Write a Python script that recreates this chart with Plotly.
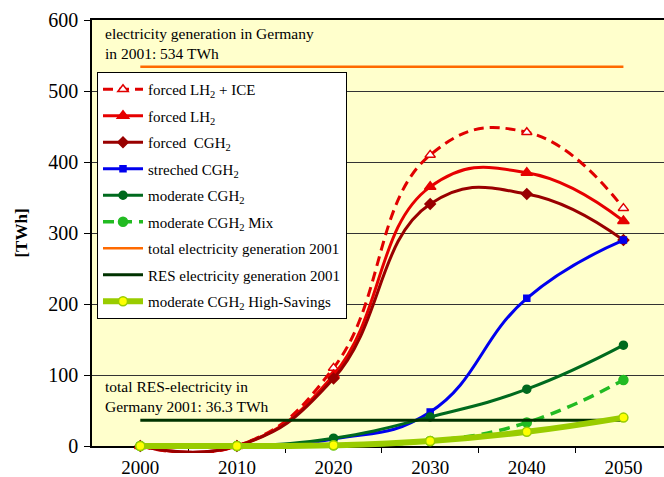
import plotly.graph_objects as go

# Hydrogen-related electricity demand scenarios, Germany
years = [2000, 2010, 2020, 2030, 2040, 2050]

forced_lh2_ice = [0, 0, 110, 410, 442, 335]
forced_lh2 = [0, 0, 100, 365, 385, 317]
forced_cgh2 = [0, 0, 95, 341, 355, 290]
streched_cgh2 = [0, 0, 10, 48, 208, 290]
moderate_cgh2 = [0, 0, 11, 41, 80, 142]
moderate_cgh2_mix = [0, 0, 1, 7, 33, 93]
moderate_cgh2_high_savings = [0, 0, 1, 7, 20, 40]

total_electricity_2001 = 534
res_electricity_2001 = 36.3

SERIF = "Liberation Serif"

# plot box in pixels: axis area 20..446, curves may hang a little below 0
TOP, AXIS_BOTTOM, CURVE_BOTTOM = 20, 446, 453
PX_PER_UNIT = (AXIS_BOTTOM - TOP) / 600
H_TOTAL = CURVE_BOTTOM - TOP
D = (CURVE_BOTTOM - AXIS_BOTTOM) / H_TOTAL

fig = go.Figure()


def add_series(name, y, color, width, dash="solid", symbol="circle",
               msize=8, mfill=None, mline=None, smooth=True, show_markers=True):
    fig.add_trace(go.Scatter(
        x=years, y=y, name=name, legendgroup=name,
        xaxis="x", yaxis="y2",
        mode="lines+markers" if show_markers else "lines",
        line=dict(color=color, width=width, dash=dash,
                  shape="spline" if smooth else "linear", smoothing=1.3),
        marker=dict(symbol=symbol, size=msize,
                    color=mfill if mfill else color,
                    line=dict(color=mline if mline else color, width=1.5)),
    ))


add_series("forced LH<sub>2</sub> + ICE", forced_lh2_ice, "#E00000", 3,
           dash="10px,6px", symbol="triangle-up", msize=9, mfill="white")
add_series("forced LH<sub>2</sub>", forced_lh2, "#E60000", 3,
           symbol="triangle-up", msize=10)
add_series("forced  CGH<sub>2</sub>", forced_cgh2, "#990000", 3,
           symbol="diamond", msize=8)
add_series("streched CGH<sub>2</sub>", streched_cgh2, "#0000EE", 3,
           symbol="square", msize=6)
add_series("moderate CGH<sub>2</sub>", moderate_cgh2, "#006A1E", 3,
           symbol="circle", msize=8)
add_series("moderate CGH<sub>2</sub> Mix", moderate_cgh2_mix, "#22BB22", 3.5,
           dash="11px,7px", symbol="circle", msize=9)
add_series("total electricity generation 2001",
           [total_electricity_2001] * len(years), "#FF6A00", 2.5,
           smooth=False, show_markers=False)
add_series("RES electricity generation 2001",
           [res_electricity_2001] * len(years), "#003300", 3,
           smooth=False, show_markers=False)
add_series("moderate CGH<sub>2</sub> High-Savings", moderate_cgh2_high_savings,
           "#99CC00", 6, symbol="circle", msize=9, mfill="#FFFF00",
           mline="#99CC00")

# yellow plot background, only above the category axis
fig.add_shape(type="rect", xref="paper", yref="y", x0=0, x1=1, y0=0, y1=600,
              fillcolor="#FFFFCC", line=dict(width=0), layer="below")

fig.add_annotation(
    x=0.019, y=1.0 - 3 / H_TOTAL, xref="paper", yref="paper",
    xanchor="left", yanchor="top", align="left", showarrow=False,
    text="electricity generation in Germany<br>in 2001: 534 TWh",
    font=dict(family=SERIF, size=15.5, color="black"),
)
fig.add_annotation(
    x=0.019, y=(CURVE_BOTTOM - 376) / H_TOTAL, xref="paper", yref="paper",
    xanchor="left", yanchor="top", align="left", showarrow=False,
    text="total RES-electricity in<br>Germany 2001: 36.3 TWh",
    font=dict(family=SERIF, size=15.5, color="black"),
)

fig.update_layout(
    width=664, height=477,
    margin=dict(l=92, r=0, t=TOP, b=477 - CURVE_BOTTOM, autoexpand=False),
    paper_bgcolor="white",
    plot_bgcolor="rgba(0,0,0,0)",
    font=dict(family=SERIF, color="black"),
    legend=dict(
        x=(97 - 92) / 572, y=(CURVE_BOTTOM - 72) / H_TOTAL,
        xanchor="left", yanchor="top",
        bgcolor="white", bordercolor="black", borderwidth=1,
        font=dict(family=SERIF, size=15, color="black"),
        tracegroupgap=4, itemwidth=40,
    ),
    xaxis=dict(
        range=[1995, 2054.2], anchor="y", automargin=False,
        tickvals=years, ticktext=[str(y) for y in years],
        ticks="", showgrid=False, zeroline=False,
        showline=True, linecolor="black", linewidth=1.5, mirror=True,
        tickfont=dict(family=SERIF, size=19, color="black"),
        ticklabelstandoff=3,
        minor=dict(tickvals=[2005, 2015, 2025, 2035, 2045],
                   ticks="outside", ticklen=5, tickcolor="black",
                   showgrid=False),
    ),
    yaxis=dict(
        domain=[D, 1], range=[0, 600], dtick=100, automargin=False,
        ticks="outside", ticklen=6, tickcolor="black",
        showgrid=True, gridcolor="#333333", gridwidth=1,
        zeroline=False,
        showline=True, linecolor="black", linewidth=1.5,
        tickfont=dict(family=SERIF, size=20, color="black"),
        ticklabelstandoff=2,
        title=dict(text="<b>[TWh]</b>", standoff=16,
                   font=dict(family=SERIF, size=17, color="black")),
    ),
    yaxis2=dict(
        domain=[0, 1], anchor="x", visible=False, fixedrange=True,
        automargin=False,
        range=[-(CURVE_BOTTOM - AXIS_BOTTOM) / PX_PER_UNIT, 600],
    ),
)

fig.write_html("out.html")
